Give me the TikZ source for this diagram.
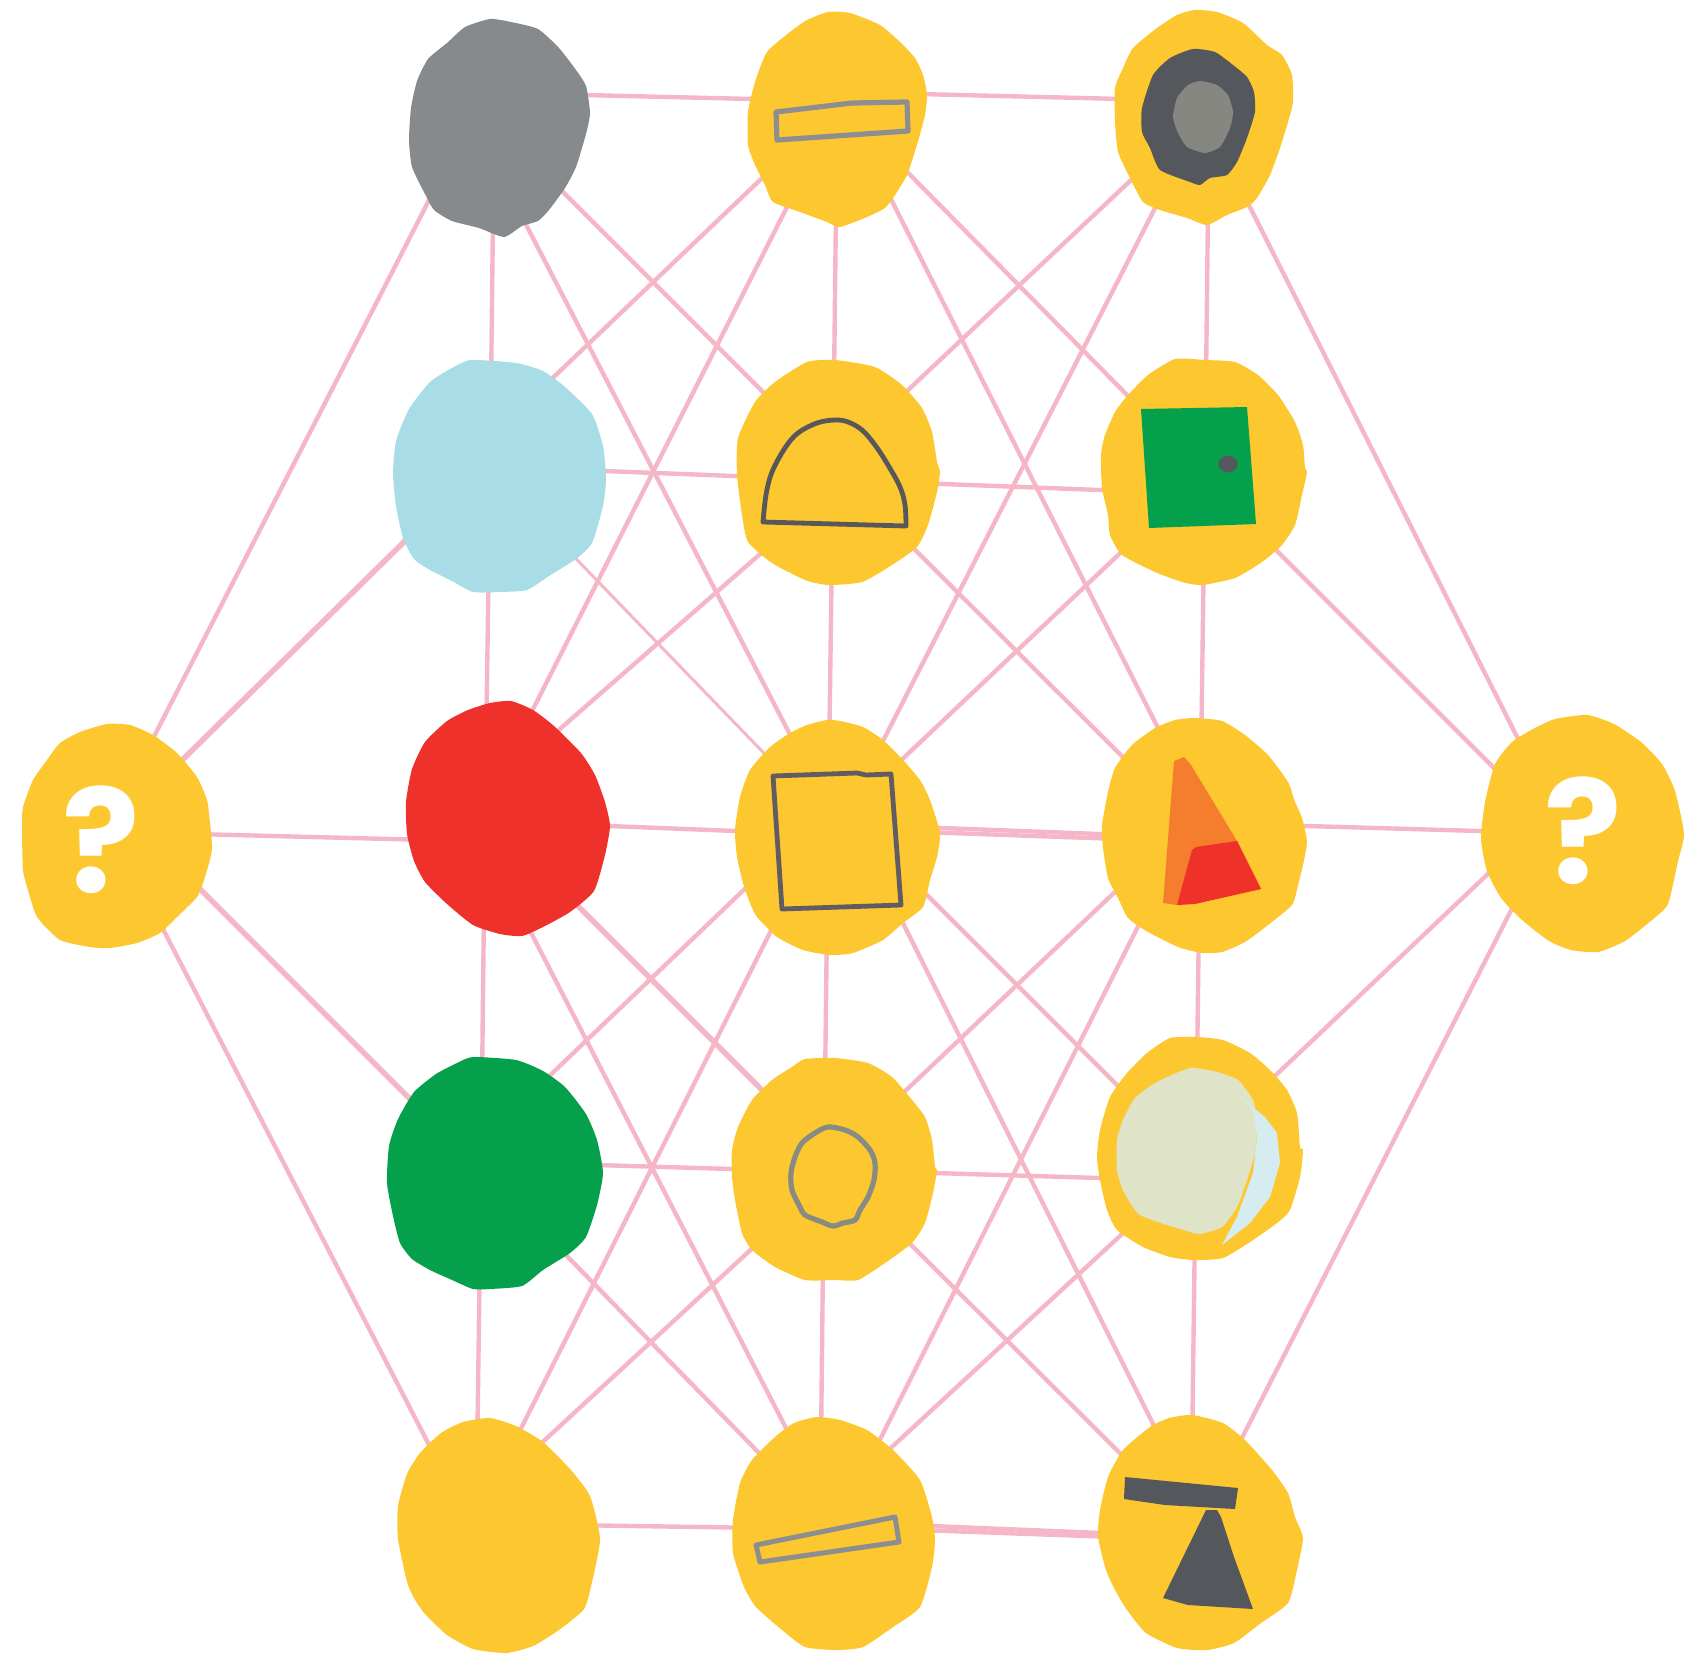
\documentclass[tikz,border=0pt]{standalone}
\usepackage{fontspec}
\usetikzlibrary{calc}
\newfontfamily\qfont{Poppins}

\definecolor{blobyellow}{HTML}{FDC72F}
\definecolor{linkpink}{HTML}{F5B7C7}
\definecolor{stonegray}{HTML}{878A8D}
\definecolor{skyblue}{HTML}{A8DCE6}
\definecolor{tomato}{HTML}{EE322B}
\definecolor{leaf}{HTML}{05A04B}
\definecolor{slate}{HTML}{54575B}
\definecolor{pebble}{HTML}{858780}
\definecolor{penline}{HTML}{58585A}
\definecolor{boxline}{HTML}{5F5C64}
\definecolor{barline}{HTML}{8C8E90}
\definecolor{ringline}{HTML}{888B82}
\definecolor{carrot}{HTML}{F47E2D}
\definecolor{chili}{HTML}{EE3129}
\definecolor{sage}{HTML}{DFE4C9}
\definecolor{mist}{HTML}{D5EDF0}

\tikzset{
  edge/.style={draw=linkpink, line width=2.2pt},
  thinedge/.style={line width=1.5pt},
  thickedge/.style={line width=2.8pt},
  blob/.style={fill=#1},
  outline/.style={draw=#1, line width=2.4pt, line join=round, fill=none},
  qmark/.style={text=white, inner sep=0pt, font=\qfont\bfseries\fontsize{72}{72}\selectfont}
}
\newcommand\edgeline[5][]{\draw[edge,#1] ($(#2)+(#3)$) -- ($(#4)+(#5)$);}

\begin{document}
\begin{tikzpicture}[x=0.5pt,y=-0.5pt]
\useasboundingbox (0,0) rectangle (1687,1654);

% anchor points of the seventeen discs
\coordinate (gray)     at (499,128);
\coordinate (topmid)   at (837,118);
\coordinate (topright) at (1204,118);
\coordinate (lblue)    at (500,477);
\coordinate (semi)     at (838,472);
\coordinate (gsq)      at (1204,471);
\coordinate (qleft)    at (116,836);
\coordinate (redn)     at (508,818);
\coordinate (sqr)      at (837,837);
\coordinate (tri)      at (1204,835);
\coordinate (qright)   at (1582,834);
\coordinate (grn)      at (495,1173);
\coordinate (circ)     at (834,1170);
\coordinate (pale)     at (1200,1148);
\coordinate (botl)     at (499,1536);
\coordinate (botm)     at (834,1533);
\coordinate (botr)     at (1199,1532);

% ---------- connectors ----------
% rows
\edgeline{gray}{0,-35}{topmid}{0,-17}
\edgeline{topmid}{0,-26}{topright}{0,-17}
\edgeline{lblue}{0,-10}{semi}{0,8}
\edgeline{semi}{0,8}{gsq}{0,23}
\edgeline{qleft}{0,-4}{redn}{0,24}
\edgeline{redn}{0,4}{sqr}{0,-2}
\edgeline{sqr}{0,-13}{tri}{0,3}
\edgeline{sqr}{0,-8}{tri}{0,7}
\edgeline{tri}{0,-12}{qright}{0,0}
\edgeline{grn}{0,-11}{circ}{0,2}
\edgeline{circ}{0,0}{pale}{0,33}
\edgeline{botl}{0,-12}{botm}{0,-4}
\edgeline{botm}{0,-11}{botr}{0,5}
\edgeline{botm}{0,-6}{botr}{0,8}
% columns
\edgeline{gray}{-5,0}{lblue}{-10,0}
\edgeline{lblue}{-10,0}{redn}{-23,0}
\edgeline{redn}{-23,0}{grn}{-14,0}
\edgeline{grn}{-14,0}{botl}{-23,0}
\edgeline{topmid}{0,0}{semi}{-5,0}
\edgeline{semi}{-5,0}{sqr}{-9,0}
\edgeline{sqr}{-9,0}{circ}{-10,0}
\edgeline{circ}{-10,0}{botm}{-14,0}
\edgeline{topright}{5,0}{gsq}{1,0}
\edgeline{gsq}{1,0}{tri}{-4,0}
\edgeline{tri}{-4,0}{pale}{-4,0}
\edgeline{pale}{-4,0}{botr}{-8,0}
% diagonals
\edgeline{gray}{0,0}{semi}{5,0}
\edgeline{topmid}{-12,0}{lblue}{-51,0}
\edgeline{topmid}{17,0}{gsq}{-2,0}
\edgeline{topright}{-7,0}{semi}{-17,0}
\edgeline[thinedge]{lblue}{-3,0}{sqr}{8,0}
\edgeline{semi}{16,0}{redn}{-50,0}
\edgeline{semi}{-1,0}{tri}{-3,0}
\edgeline{gsq}{3,0}{sqr}{-17,0}
\edgeline[thickedge]{redn}{-18,0}{circ}{8,0}
\edgeline{sqr}{-38,0}{grn}{-47,0}
\edgeline{sqr}{32,0}{pale}{-20,0}
\edgeline{tri}{-29,0}{circ}{-12,0}
\edgeline{grn}{-9,0}{botm}{3,0}
\edgeline{circ}{3,0}{botl}{-58,0}
\edgeline{circ}{2,0}{botr}{0,0}
\edgeline{pale}{15,0}{botm}{-35,0}
% long steps
\edgeline{gray}{-23,0}{sqr}{6,0}
\edgeline{topmid}{-5,0}{redn}{-30,0}
\edgeline{topmid}{13,0}{tri}{8,0}
\edgeline{topright}{-3,0}{sqr}{-3,0}
\edgeline{redn}{-36,0}{botm}{6,0}
\edgeline{sqr}{-19,0}{botl}{-32,0}
\edgeline{sqr}{23,0}{botr}{8,0}
\edgeline{tri}{-20,0}{botm}{-1,0}
% side discs
\edgeline{gray}{-33,0}{qleft}{-13,0}
\edgeline[thickedge]{lblue}{-30,0}{qleft}{-11,0}
\edgeline[thickedge]{qleft}{31,0}{grn}{-11,0}
\edgeline{qleft}{-1,0}{botl}{-23,0}
\edgeline{topright}{1,0}{qright}{-16,0}
\edgeline{gsq}{-7,0}{qright}{-22,0}
\edgeline{qright}{-52,0}{pale}{-1,0}
\edgeline{qright}{-32,0}{botr}{-5,0}

% ---------- discs ----------
% top row
\fill[blob=stonegray] plot[smooth cycle, tension=0.35] coordinates {(490,19) (511,22) (538,29) (559,48) (576,70) (586,86) (590,113) (586,134) (576,167) (565,188) (549,210) (538,221) (522,226) (504,237) (479,228) (452,221) (434,210) (425,194) (412,167) (409,140) (411,108) (417,81) (428,59) (447,43) (465,27)};

\fill[blob=blobyellow] plot[smooth cycle, tension=0.35] coordinates {(828,12) (850,13) (880,25) (900,42) (915,58) (923,75) (927,95) (925,115) (917,145) (907,175) (895,195) (885,208) (867,217) (840,227) (827,222) (800,212) (773,202) (765,185) (755,165) (748,145) (748,112) (755,82) (767,52) (790,32) (807,20)};
\draw[outline=barline, line width=2.6pt] (776,112) -- (852,103) -- (907,102) -- (908,131) -- (777,140) -- cycle;

\fill[blob=blobyellow] plot[smooth cycle, tension=0.35] coordinates {(1195,10) (1217,12) (1243,23) (1267,45) (1282,55) (1292,75) (1293,102) (1288,122) (1280,148) (1270,175) (1257,198) (1247,207) (1227,215) (1207,225) (1187,218) (1160,210) (1143,202) (1130,178) (1118,152) (1115,122) (1115,88) (1123,68) (1133,48) (1157,28) (1177,15)};
\fill[blob=slate] plot[smooth cycle, tension=0.35] coordinates {(1193,49) (1215,52) (1233,65) (1247,77) (1254,92) (1255,112) (1247,138) (1237,162) (1227,175) (1210,178) (1200,185) (1190,182) (1160,170) (1150,148) (1142,132) (1142,108) (1153,75) (1170,58)};
\fill[blob=pebble] plot[smooth cycle, tension=0.35] coordinates {(1200,81) (1217,85) (1228,95) (1233,112) (1230,128) (1220,147) (1205,153) (1187,147) (1178,133) (1173,117) (1177,98) (1188,85)};

% second row
\fill[blob=skyblue] plot[smooth cycle, tension=0.35] coordinates {(471,360) (516,363) (543,371) (565,387) (592,414) (603,446) (606,479) (603,506) (592,543) (576,559) (549,576) (527,590) (500,592) (473,592) (452,581) (430,570) (414,559) (403,538) (396,506) (393,473) (396,441) (409,409) (430,382) (452,368)};

\fill[blob=blobyellow] plot[smooth cycle, tension=0.35] coordinates {(807,362) (835,360) (875,367) (902,385) (922,408) (932,432) (937,462) (940,472) (937,492) (928,525) (917,547) (892,565) (862,582) (828,585) (805,580) (772,563) (748,542) (742,515) (737,475) (738,438) (755,402) (775,382)};
\draw[outline=penline] plot[smooth, tension=0.6] coordinates {(763,522) (766,495) (772,472) (785,448) (798,433) (817,423) (835,420) (848,422) (862,430) (875,445) (888,465) (900,487) (905,505) (906,526)} -- cycle;

\fill[blob=blobyellow] plot[smooth cycle, tension=0.35] coordinates {(1175,359) (1205,360) (1235,362) (1258,375) (1278,395) (1295,422) (1303,445) (1305,468) (1307,472) (1302,495) (1295,525) (1282,545) (1262,562) (1235,578) (1202,585) (1182,582) (1155,572) (1122,555) (1110,535) (1108,515) (1102,488) (1101,455) (1105,435) (1115,412) (1128,395) (1148,375)};
\fill[leaf] (1141,409) -- (1247,407) -- (1256,524) -- (1149,528) -- cycle;
\fill[slate] (1228,464) ellipse [x radius=9.5, y radius=8.5];

% middle row
\fill[blob=blobyellow] plot[smooth cycle, tension=0.35] coordinates {(107,724) (130,725) (153,735) (177,753) (197,777) (207,800) (210,823) (212,850) (205,877) (197,897) (177,917) (160,933) (137,943) (110,948) (90,947) (60,940) (37,917) (28,890) (23,870) (22,827) (23,807) (33,780) (47,760) (60,743) (80,732)};
\node[qmark] (qmarkleft) at (101,840) {?};

\fill[blob=tomato] plot[smooth cycle, tension=0.35] coordinates {(490,703) (511,701) (533,710) (554,726) (581,753) (595,775) (605,802) (610,826) (605,855) (594,891) (570,912) (543,927) (522,936) (500,934) (473,925) (447,904) (425,882) (414,861) (407,834) (406,802) (412,769) (425,742) (447,721) (468,710)};

\fill[blob=blobyellow] plot[smooth cycle, tension=0.35] coordinates {(827,720) (840,721) (863,727) (883,740) (903,760) (920,780) (930,800) (940,833) (937,857) (930,880) (923,907) (903,923) (883,940) (853,953) (830,955) (803,950) (777,937) (757,917) (750,903) (743,883) (737,857) (735,830) (740,797) (750,770) (770,747) (790,733) (807,725)};
\draw[outline=boxline] (773,776) -- (857,773) -- (866,775) -- (891,774) -- (901,905) -- (782,909) -- cycle;

\fill[blob=blobyellow] plot[smooth cycle, tension=0.35] coordinates {(1195,718) (1222,721) (1245,735) (1268,755) (1288,782) (1295,802) (1302,818) (1307,842) (1303,865) (1298,885) (1292,905) (1268,925) (1245,942) (1222,952) (1202,953) (1178,947) (1148,932) (1128,918) (1118,898) (1108,878) (1103,848) (1102,825) (1108,792) (1115,768) (1132,745) (1155,728) (1175,720)};
\fill[carrot] (1174,761) -- (1184,757) -- (1191,765) -- (1237,841) -- (1261,889) -- (1177,905) -- (1163,903) -- cycle;
\fill[chili] (1192,850) -- (1196,847) -- (1237,841) -- (1261,889) -- (1195,904) -- (1177,905) -- cycle;

\fill[blob=blobyellow] plot[smooth cycle, tension=0.35] coordinates {(1555,719) (1587,715) (1614,724) (1641,742) (1662,764) (1675,791) (1684,834) (1678,861) (1668,904) (1652,920) (1625,941) (1598,952) (1571,950) (1549,941) (1522,920) (1501,898) (1487,871) (1481,839) (1485,802) (1495,764) (1512,742) (1533,729)};
\node[qmark] (qmarkright) at (1583,831) {?};

% fourth row
\fill[blob=leaf] plot[smooth cycle, tension=0.35] coordinates {(473,1057) (516,1060) (543,1071) (565,1087) (586,1114) (597,1140) (603,1173) (597,1205) (586,1237) (570,1253) (543,1270) (522,1286) (490,1289) (473,1289) (452,1280) (430,1270) (412,1259) (400,1243) (393,1216) (387,1183) (389,1146) (398,1119) (414,1092) (436,1074) (457,1063)};

\fill[blob=blobyellow] plot[smooth cycle, tension=0.35] coordinates {(805,1059) (835,1058) (868,1063) (892,1077) (912,1100) (925,1117) (932,1140) (935,1167) (937,1170) (933,1193) (925,1223) (912,1243) (885,1263) (858,1280) (835,1280) (805,1280) (775,1267) (752,1250) (742,1233) (735,1200) (732,1177) (732,1150) (738,1127) (752,1100) (772,1080) (792,1067)};
\draw[outline=ringline, line width=2.6pt] plot[smooth cycle, tension=0.5] coordinates {(828,1127) (845,1130) (858,1137) (870,1150) (875,1163) (874,1180) (868,1197) (860,1210) (855,1220) (843,1223) (833,1226) (822,1222) (805,1215) (800,1207) (792,1190) (791,1173) (795,1157) (802,1143) (815,1133)};

\fill[blob=blobyellow] plot[smooth cycle, tension=0.35] coordinates {(1170,1038) (1197,1037) (1223,1040) (1250,1053) (1270,1070) (1287,1090) (1297,1113) (1300,1147) (1303,1150) (1300,1177) (1290,1210) (1277,1223) (1253,1240) (1223,1258) (1193,1260) (1170,1257) (1143,1247) (1117,1230) (1107,1210) (1100,1180) (1097,1157) (1100,1130) (1110,1097) (1127,1073) (1147,1053)};
\fill[blob=sage] plot[smooth cycle, tension=0.35] coordinates {(1190,1068) (1217,1072) (1238,1080) (1253,1100) (1257,1123) (1255,1153) (1247,1180) (1237,1207) (1222,1227) (1200,1234) (1190,1232) (1140,1215) (1123,1190) (1117,1170) (1117,1140) (1123,1120) (1135,1098) (1157,1082)};
\fill[mist] (1240,1097) -- (1265,1117) -- (1277,1133) -- (1280,1163) -- (1270,1197) -- (1250,1223) -- (1222,1245) -- (1237,1217) -- (1253,1173) -- (1257,1137) -- (1253,1110) -- cycle;

% bottom row
\fill[blob=blobyellow] plot[smooth cycle, tension=0.35] coordinates {(490,1418) (516,1426) (543,1442) (570,1469) (590,1496) (600,1539) (592,1582) (584,1609) (559,1630) (533,1646) (506,1653) (473,1649) (447,1635) (425,1614) (414,1598) (407,1582) (398,1539) (398,1506) (407,1474) (420,1453) (441,1433) (463,1422)};

\fill[blob=blobyellow] plot[smooth cycle, tension=0.35] coordinates {(817,1417) (840,1420) (867,1430) (893,1450) (920,1480) (932,1517) (935,1540) (932,1567) (920,1607) (893,1627) (863,1647) (836,1650) (805,1647) (782,1630) (756,1607) (744,1587) (733,1553) (733,1520) (740,1483) (752,1460) (775,1437) (794,1423)};
\draw[outline=barline, line width=2.5pt] (756,1545) -- (895,1517) -- (899,1542) -- (760,1562) -- cycle;

\fill[blob=blobyellow] plot[smooth cycle, tension=0.35] coordinates {(1192,1415) (1223,1423) (1245,1440) (1272,1470) (1288,1493) (1295,1517) (1303,1538) (1297,1570) (1288,1603) (1261,1623) (1234,1643) (1207,1650) (1177,1648) (1146,1633) (1127,1610) (1115,1590) (1106,1570) (1098,1537) (1100,1510) (1108,1477) (1123,1450) (1150,1427) (1169,1418)};
\fill[slate] (1125,1477) -- (1238,1488) -- (1235,1509) -- (1165,1505) -- (1124,1499) -- cycle;
\fill[slate] (1206,1510) -- (1217,1510) -- (1221,1517) -- (1234,1557) -- (1253,1609) -- (1188,1605) -- (1163,1598) -- cycle;
\end{tikzpicture}
\end{document}
